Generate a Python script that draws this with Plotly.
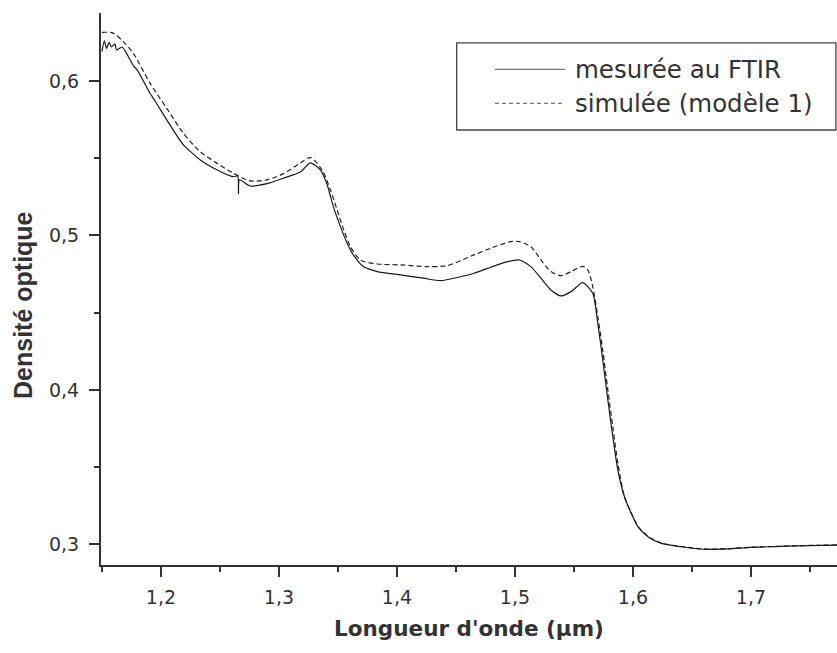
import plotly.graph_objects as go

x_mes = [1.150, 1.152, 1.154, 1.156, 1.158, 1.161, 1.1624, 1.167, 1.170, 1.1765, 1.180,
         1.1907, 1.195, 1.2048, 1.2187, 1.2331, 1.2473, 1.2612, 1.2650, 1.2657, 1.2665,
         1.2756, 1.2898, 1.3037, 1.3181, 1.3266, 1.3351, 1.3408, 1.3461, 1.3521, 1.3578,
         1.3631, 1.3716, 1.3833, 1.4031, 1.4226, 1.437, 1.4653, 1.4795, 1.4937, 1.5036,
         1.5135, 1.522, 1.5305, 1.539, 1.5475, 1.5574, 1.5659, 1.5702, 1.5744, 1.5787,
         1.5829, 1.5872, 1.5928, 1.5985, 1.6042, 1.6127, 1.624, 1.641, 1.66, 1.68, 1.70,
         1.72, 1.74, 1.76, 1.773]
y_mes = [0.619, 0.626, 0.621, 0.625, 0.622, 0.624, 0.620, 0.622, 0.619, 0.610, 0.607,
         0.592, 0.587, 0.575, 0.559, 0.549, 0.5425, 0.538, 0.5385, 0.527, 0.536,
         0.532, 0.5335, 0.537, 0.541, 0.547, 0.5425, 0.533, 0.5186, 0.5057, 0.495,
         0.4874, 0.4798, 0.4766, 0.4744, 0.4723, 0.4707, 0.4755, 0.4794, 0.483, 0.4841,
         0.4798, 0.4723, 0.4647, 0.4608, 0.4636, 0.4694, 0.4626, 0.4431, 0.4194, 0.3935,
         0.3697, 0.3481, 0.3308, 0.3201, 0.3114, 0.3049, 0.3006, 0.2984, 0.2968, 0.2970, 0.2980,
         0.2985, 0.2990, 0.2993, 0.2995]

# Simulated spectrum (model 1)
x_sim = [1.150, 1.1595, 1.168, 1.1765, 1.1907, 1.2048, 1.219, 1.2331, 1.2473, 1.2614,
         1.2756, 1.2898, 1.3039, 1.3181, 1.3266, 1.3365, 1.3436, 1.3493, 1.3549, 1.3606,
         1.3691, 1.3833, 1.4031, 1.4257, 1.4427, 1.4653, 1.4795, 1.4965, 1.5036, 1.5135,
         1.522, 1.5305, 1.539, 1.5475, 1.5574, 1.5617, 1.5659, 1.5702, 1.5744, 1.5787,
         1.5829, 1.5872, 1.5928, 1.5985, 1.6042, 1.6127, 1.624, 1.641, 1.66, 1.68, 1.70,
         1.72, 1.74, 1.76, 1.773]
y_sim = [0.6315, 0.631, 0.6255, 0.618, 0.5986, 0.5824, 0.5662, 0.5543, 0.5468, 0.5403,
         0.5353, 0.536, 0.540, 0.5468, 0.5504, 0.5425, 0.5295, 0.5165, 0.5036, 0.4927,
         0.4841, 0.4815, 0.4809, 0.4798, 0.4805, 0.4874, 0.4917, 0.496, 0.496, 0.4927,
         0.4841, 0.4766, 0.474, 0.4766, 0.4800, 0.4777, 0.4669, 0.4474, 0.4258, 0.400,
         0.3762, 0.3525, 0.3308, 0.3205, 0.3116, 0.3052, 0.3008, 0.2986, 0.2970, 0.2972, 0.2981,
         0.2986, 0.2991, 0.2994, 0.2996]

series_names = ["mesurée au FTIR", "simulée (modèle 1)"]
x_title = "Longueur d'onde (µm)"
y_title = "Densité optique"

TXT = "#333333"
H_FONT = "DejaVu Sans"

fig = go.Figure()
fig.add_trace(go.Scatter(x=x_sim, y=y_sim, mode="lines", name=series_names[1],
                         line=dict(color="#222222", width=1.2, dash="5px,3px",
                                   shape="spline", smoothing=0.8),
                         showlegend=False))
fig.add_trace(go.Scatter(x=x_mes, y=y_mes, mode="lines", name=series_names[0],
                         line=dict(color="#1a1a1a", width=1.2, shape="spline", smoothing=0.6),
                         showlegend=False))

axis_common = dict(showline=True, linewidth=2, linecolor="#333333", ticks="outside",
                   ticklen=10, tickwidth=2, tickcolor="#333333", showgrid=False,
                   zeroline=False, mirror=False, automargin=False,
                   tickfont=dict(family=H_FONT, size=19, color=TXT))

fig.update_xaxes(range=[1.1492, 1.7729], dtick=0.1, tick0=0, tickformat=".1f",
                 minor=dict(dtick=0.05, tick0=0, ticks="outside", ticklen=5, tickwidth=2,
                            tickcolor="#333333"),
                 ticklabelstandoff=4,
                 title=dict(text=x_title, standoff=14,
                            font=dict(family=H_FONT, size=21.5, color=TXT, weight="bold")),
                 **axis_common)
fig.update_yaxes(range=[0.2866, 0.644], dtick=0.1, tick0=0, tickformat=".1f",
                 minor=dict(dtick=0.05, tick0=0, ticks="outside", ticklen=5, tickwidth=2,
                            tickcolor="#333333"),
                 ticklabelstandoff=6,
                 **axis_common)

# Y-axis title (placed to match the original's vertical offset)
fig.add_annotation(xref="paper", yref="paper", x=-0.106, y=0.471, xanchor="center",
                   yanchor="middle", textangle=-90, text=y_title, showarrow=False,
                   font=dict(family="Liberation Sans", size=25, color=TXT, weight="bold"))

# Legend drawn as a framed box (line samples + labels)
fig.add_shape(type="rect", xref="paper", yref="paper", x0=0.4833, x1=0.9985, y0=0.788, y1=0.9457,
              line=dict(color="#444444", width=1.3), fillcolor="white", layer="below")
fig.add_shape(type="line", xref="paper", yref="paper", x0=0.5353, x1=0.6304, y0=0.898, y1=0.898,
              line=dict(color="#555555", width=1))
fig.add_shape(type="line", xref="paper", yref="paper", x0=0.5353, x1=0.6304, y0=0.8364, y1=0.8364,
              line=dict(color="#555555", width=1, dash="4px,3px"))
fig.add_annotation(xref="paper", yref="paper", x=0.6413, y=0.898, xanchor="left", yanchor="middle",
                   text=series_names[0], showarrow=False,
                   font=dict(family=H_FONT, size=24.5, color=TXT))
fig.add_annotation(xref="paper", yref="paper", x=0.6413, y=0.8364, xanchor="left", yanchor="middle",
                   text=series_names[1], showarrow=False,
                   font=dict(family=H_FONT, size=24.5, color=TXT))

fig.update_layout(width=837, height=653, margin=dict(l=101, r=0, t=13, b=88),
                  paper_bgcolor="white", plot_bgcolor="white", separators=", ",
                  showlegend=False)

fig.write_html("out.html", config={"displayModeBar": False},
               post_script="document.body.style.margin='0';document.body.style.overflow='hidden';")
